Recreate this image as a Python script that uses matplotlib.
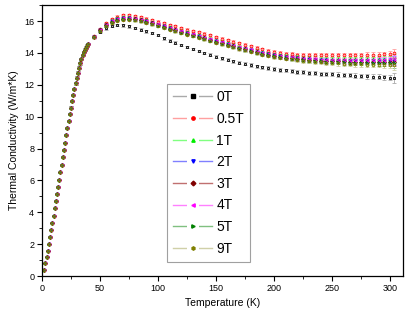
import matplotlib
matplotlib.use("Agg")
import matplotlib.pyplot as plt
from matplotlib.lines import Line2D
from matplotlib.legend_handler import HandlerTuple
from matplotlib.ticker import MultipleLocator

plt.rcParams['font.family'] = ['Liberation Sans', 'DejaVu Sans']

# temperatures (K): shared low-T part + high-T part
T_low = [2, 3, 4, 5, 6, 7, 8, 9, 10, 11, 12, 13, 14, 15, 16, 17, 18, 19, 20, 21,
         22, 23, 24, 25, 26, 27, 28, 29, 30, 31, 32, 33, 34, 35, 36, 37, 38, 39, 40]
T_high = [45, 50, 55, 60, 65, 70, 75, 80, 85, 90,
          95, 100, 105, 110, 115, 120, 125, 130, 135, 140,
          145, 150, 155, 160, 165, 170, 175, 180, 185, 190,
          195, 200, 205, 210, 215, 220, 225, 230, 235, 240,
          245, 250, 255, 260, 265, 270, 275, 280, 285, 290,
          295, 300, 303]

# conductivity below 40 K (all fields overlap)
k_low = [0.4, 0.8, 1.2, 1.6, 2.0, 2.45, 2.9, 3.35, 3.8, 4.25, 4.7, 5.15, 5.6, 6.05,
         6.5, 6.98, 7.45, 7.92, 8.38, 8.83, 9.28, 9.72, 10.15, 10.57, 10.98, 11.37,
         11.75, 12.1, 12.45, 12.77, 13.07, 13.35, 13.62, 13.86, 14.05, 14.2, 14.34,
         14.46, 14.57]

k_0T = [15.0, 15.33, 15.55, 15.7, 15.75, 15.73, 15.66, 15.57, 15.47, 15.36,
        15.24, 15.12, 14.92, 14.78, 14.64, 14.5, 14.37, 14.25, 14.12, 14.0,
        13.88, 13.77, 13.67, 13.57, 13.48, 13.4, 13.32, 13.24, 13.17, 13.1,
        13.04, 12.99, 12.94, 12.9, 12.86, 12.82, 12.79, 12.76, 12.73, 12.7,
        12.68, 12.66, 12.64, 12.62, 12.6, 12.58, 12.56, 12.54, 12.52, 12.5,
        12.48, 12.45, 12.42]
k_05T = [15.05, 15.5, 15.85, 16.1, 16.27, 16.35, 16.36, 16.32, 16.25, 16.16,
         16.06, 15.96, 15.86, 15.76, 15.66, 15.56, 15.47, 15.38, 15.29, 15.2,
         15.1, 15.0, 14.9, 14.8, 14.7, 14.6, 14.5, 14.41, 14.32, 14.24,
         14.15, 14.06, 14.0, 13.96, 13.93, 13.9, 13.88, 13.87, 13.86, 13.85,
         13.85, 13.85, 13.85, 13.85, 13.86, 13.86, 13.87, 13.88, 13.89, 13.9,
         13.92, 13.95, 13.97]
k_1T = [15.05, 15.48, 15.8, 16.03, 16.17, 16.24, 16.24, 16.2, 16.13, 16.04,
        15.94, 15.83, 15.72, 15.61, 15.5, 15.4, 15.3, 15.2, 15.1, 15.0,
        14.9, 14.8, 14.7, 14.6, 14.5, 14.4, 14.3, 14.21, 14.13, 14.05,
        13.98, 13.91, 13.85, 13.8, 13.76, 13.72, 13.69, 13.67, 13.65, 13.64,
        13.63, 13.62, 13.61, 13.61, 13.61, 13.61, 13.61, 13.62, 13.62, 13.63,
        13.63, 13.64, 13.65]
k_2T = [15.02, 15.45, 15.76, 15.98, 16.12, 16.18, 16.18, 16.14, 16.07, 15.98,
        15.88, 15.77, 15.66, 15.55, 15.44, 15.34, 15.24, 15.14, 15.04, 14.94,
        14.84, 14.74, 14.64, 14.54, 14.44, 14.34, 14.25, 14.16, 14.07, 13.99,
        13.92, 13.85, 13.79, 13.74, 13.7, 13.66, 13.62, 13.59, 13.57, 13.55,
        13.53, 13.52, 13.51, 13.5, 13.5, 13.49, 13.49, 13.49, 13.49, 13.5,
        13.5, 13.5, 13.52]
k_3T = [15.0, 15.42, 15.73, 15.95, 16.09, 16.15, 16.15, 16.11, 16.04, 15.95,
        15.85, 15.74, 15.63, 15.52, 15.41, 15.31, 15.21, 15.11, 15.01, 14.91,
        14.81, 14.71, 14.61, 14.51, 14.41, 14.31, 14.22, 14.13, 14.04, 13.96,
        13.89, 13.82, 13.76, 13.71, 13.67, 13.63, 13.59, 13.56, 13.54, 13.52,
        13.5, 13.49, 13.48, 13.47, 13.46, 13.45, 13.45, 13.44, 13.44, 13.44,
        13.44, 13.44, 13.45]
k_4T = [15.03, 15.46, 15.78, 16.0, 16.14, 16.2, 16.2, 16.16, 16.09, 16.0,
        15.9, 15.79, 15.68, 15.57, 15.46, 15.36, 15.26, 15.16, 15.06, 14.96,
        14.86, 14.76, 14.66, 14.56, 14.46, 14.36, 14.27, 14.18, 14.09, 14.01,
        13.94, 13.87, 13.81, 13.76, 13.72, 13.68, 13.65, 13.62, 13.6, 13.58,
        13.57, 13.56, 13.55, 13.55, 13.55, 13.55, 13.55, 13.56, 13.56, 13.57,
        13.58, 13.59, 13.6]
k_5T = [14.99, 15.4, 15.7, 15.92, 16.06, 16.12, 16.12, 16.08, 16.01, 15.92,
        15.82, 15.71, 15.6, 15.49, 15.38, 15.28, 15.18, 15.08, 14.98, 14.88,
        14.78, 14.68, 14.58, 14.48, 14.38, 14.28, 14.19, 14.1, 14.01, 13.93,
        13.86, 13.79, 13.73, 13.68, 13.63, 13.59, 13.55, 13.52, 13.49, 13.47,
        13.45, 13.43, 13.42, 13.41, 13.4, 13.39, 13.38, 13.38, 13.37, 13.37,
        13.37, 13.37, 13.38]
k_9T = [14.98, 15.38, 15.68, 15.9, 16.03, 16.09, 16.09, 16.05, 15.98, 15.89,
        15.79, 15.68, 15.57, 15.46, 15.35, 15.25, 15.15, 15.05, 14.95, 14.85,
        14.75, 14.65, 14.55, 14.45, 14.35, 14.25, 14.16, 14.07, 13.98, 13.9,
        13.83, 13.76, 13.7, 13.64, 13.59, 13.55, 13.51, 13.47, 13.44, 13.41,
        13.38, 13.36, 13.34, 13.32, 13.3, 13.29, 13.28, 13.27, 13.26, 13.25,
        13.24, 13.23, 13.22]

# error bars (W/m*K)
err_low = [0.03, 0.03, 0.03, 0.03, 0.03, 0.04, 0.04, 0.04, 0.04, 0.04, 0.05, 0.05, 0.05,
           0.05, 0.05, 0.06, 0.06, 0.06, 0.06, 0.06, 0.07, 0.07, 0.07, 0.07, 0.07, 0.08,
           0.08, 0.08, 0.08, 0.08, 0.08, 0.08, 0.08, 0.08, 0.08, 0.08, 0.08, 0.08, 0.08]
err_high = [0.08, 0.08, 0.08, 0.08, 0.08, 0.08, 0.08, 0.08, 0.08, 0.08,
            0.08, 0.08, 0.08, 0.08, 0.08, 0.08, 0.08, 0.08, 0.09, 0.09,
            0.09, 0.09, 0.09, 0.09, 0.1, 0.1, 0.1, 0.1, 0.1, 0.1,
            0.11, 0.11, 0.11, 0.11, 0.12, 0.12, 0.12, 0.12, 0.13, 0.13,
            0.13, 0.13, 0.14, 0.14, 0.14, 0.15, 0.15, 0.15, 0.15, 0.16,
            0.16, 0.17, 0.3]

labels = ['0T', '0.5T', '1T', '2T', '3T', '4T', '5T', '9T']
series = [k_0T, k_05T, k_1T, k_2T, k_3T, k_4T, k_5T, k_9T]
colors = ['black', 'red', '#00ee00', 'blue', '#800000', '#ff00ff', '#008000', '#808000']
light = ['#aaaaaa', '#ffa0a0', '#80ff80', '#8080ff', '#c07070', '#ff80ff', '#80c080', '#d0d0a8']
markers = ['s', 'o', '^', 'v', 'D', '<', '>', 'h']

T = T_low + T_high
err = err_low + err_high

fig = plt.figure(figsize=(4.15, 3.21), dpi=100)
ax = fig.add_axes([0.101, 0.140, 0.870, 0.844])

handles = []
for k_high, lab, c, lc, m in zip(series, labels, colors, light, markers):
    ax.errorbar(T, k_low + k_high, yerr=err, fmt=m, ms=2.0, mfc='none', mec=c, mew=0.6,
                ecolor=lc, elinewidth=0.6, capsize=1.3, capthick=0.6)
    # Origin-style legend key: line, gap, symbol, gap, line
    h_line = Line2D([], [], color=lc, lw=1.0)
    h_gap = Line2D([], [], ls='none', marker='s', ms=8, mfc='white', mec='white', mew=0)
    h_mark = Line2D([], [], ls='none', marker=m, ms=2.4, mfc=c, mec=c)
    handles.append((h_line, h_gap, h_mark))

ax.set_xlim(0, 311)
ax.set_ylim(0, 17)
ax.xaxis.set_major_locator(MultipleLocator(50))
ax.xaxis.set_minor_locator(MultipleLocator(25))
ax.yaxis.set_major_locator(MultipleLocator(2))
ax.yaxis.set_minor_locator(MultipleLocator(1))
ax.tick_params(which='major', direction='out', length=3.5, width=0.8, labelsize=6.5, pad=2)
ax.tick_params(which='minor', direction='out', length=2, width=0.6)
for s in ax.spines.values():
    s.set_linewidth(0.9)

ax.set_xlabel('Temperature (K)', fontsize=7.5, labelpad=4)
ax.set_ylabel('Thermal Conductivity (W/m*K)', fontsize=7.5, labelpad=4)

leg = ax.legend(handles, labels, loc='lower left', bbox_to_anchor=(0.346, 0.052),
                handler_map={tuple: HandlerTuple(ndivide=1)},
                fontsize=10, frameon=True, fancybox=False, edgecolor='#888888',
                handlelength=2.8, handletextpad=0.3, labelspacing=0.55,
                borderpad=0.45, borderaxespad=0, numpoints=1)
leg.get_frame().set_linewidth(0.8)

fig.savefig('out.png', dpi=100)
